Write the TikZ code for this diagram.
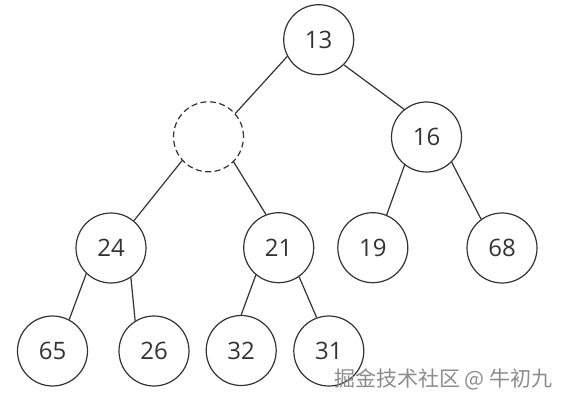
\documentclass[tikz,border=0pt]{standalone}
\usepackage{fontspec}
\setmainfont{Open Sans}
\newfontfamily\cjk{Noto Sans CJK SC}
\definecolor{ink}{RGB}{51,51,51}
\definecolor{wm}{RGB}{140,140,140}
\begin{document}
\begin{tikzpicture}[x=1pt,y=1pt,
  hnode/.style={circle,draw=ink,line width=1.2pt,minimum size=70pt,inner sep=0pt,
    font=\fontsize{24}{27}\selectfont,text=ink},
  hole/.style={hnode,dash pattern=on 6pt off 3.5pt},
  edge/.style={draw=ink,line width=1.2pt}]
\useasboundingbox (0,0) rectangle (568,405);
\fill[white] (0,0) rectangle (568,405);
\node[hnode] (n13) at (318.7,365.3) {13};
\node[hole]  (h)   at (208.5,268.2) {};
\node[hnode] (n16) at (426.5,268) {16};
\node[hnode] (n24) at (111,157) {24};
\node[hnode] (n21) at (278.7,157.3) {21};
\node[hnode] (n19) at (372.8,157.3) {19};
\node[hnode] (n68) at (502,157) {68};
\node[hnode] (n65) at (52.5,54) {65};
\node[hnode] (n26) at (154,54) {26};
\node[hnode] (n32) at (241.2,54.5) {32};
\node[hnode] (n31) at (328.8,54) {31};
\draw[edge] (n13.208.8) -- (h.41.2);
\draw[edge] (n13.315) -- (n16.129.3);
\draw[edge] (h.222) -- (n24.50.2);
\draw[edge] (h.315) -- (n21.111.7);
\draw[edge] (n16.232.8) -- (n19.67.6);
\draw[edge] (n16.315) -- (n68.126.3);
\draw[edge] (n24.226) -- (n65.62);
\draw[edge] (n24.304) -- (n26.122);
\draw[edge] (n21.230.7) -- (n32.90);
\draw[edge] (n21.305) -- (n31.110.8);
\node[anchor=west,inner sep=0pt,text=wm,font=\cjk\fontsize{21}{23}\selectfont] (wmk) at (334,26) {掘金技术社区 @ 牛初九};
\end{tikzpicture}
\end{document}
